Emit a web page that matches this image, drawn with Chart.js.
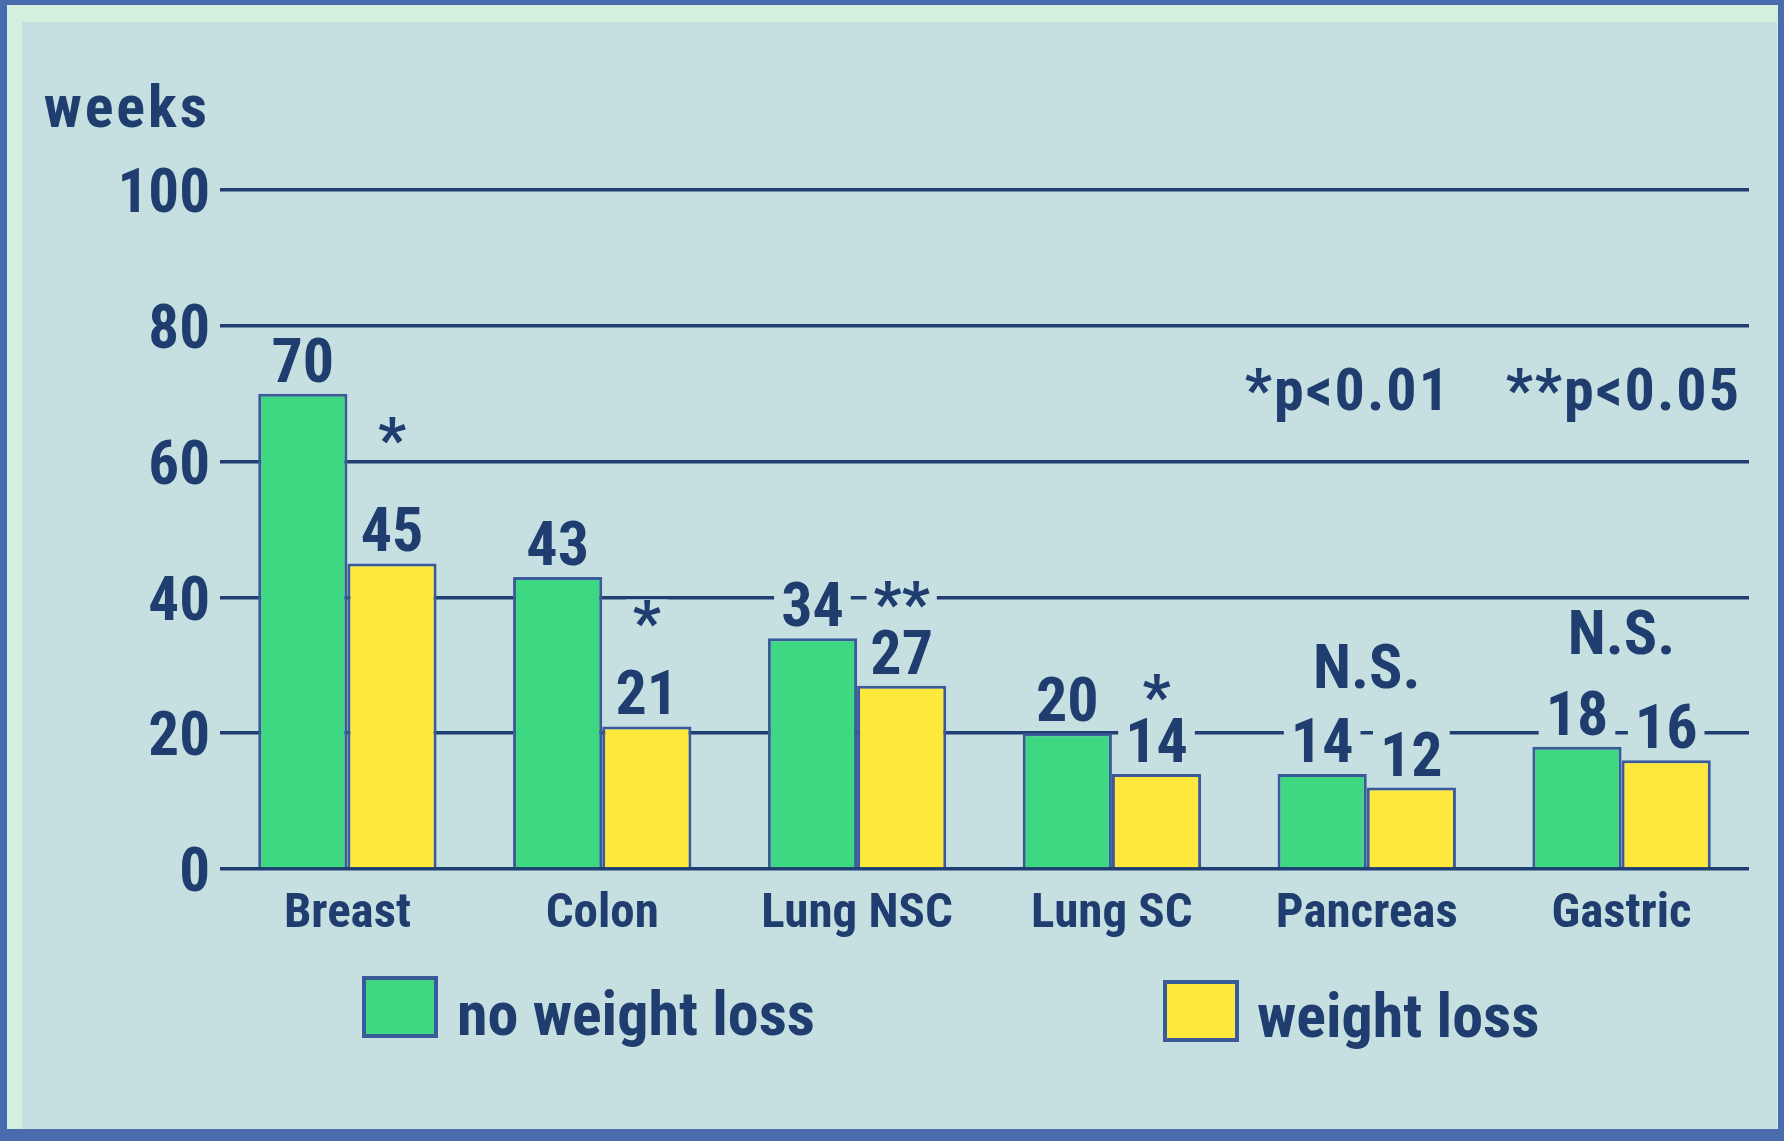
<!DOCTYPE html>
<html>
<head>
<meta charset="utf-8">
<title>Survival by weight loss</title>
<script src="https://cdn.jsdelivr.net/npm/chart.js@4/dist/chart.umd.min.js"></script>
<style>
  html, body { margin: 0; padding: 0; width: 1784px; height: 1141px; overflow: hidden; background: #4a6cae; }
  #frame { position: absolute; left: 7px; top: 5px; width: 1771px; height: 1124px; background: #d3efde; }
  #panel { position: absolute; left: 22px; top: 22px; width: 1755px; height: 1107px; background: #c6dfe1; }
  #chart { position: absolute; left: 0; top: 0; }
</style>
</head>
<body>
<div id="frame"></div>
<div id="panel"></div>
<canvas id="chart" width="1784" height="1141"></canvas>
<script>
// Median survival (weeks) by tumour type, with and without weight loss
const categories   = ['Breast', 'Colon', 'Lung NSC', 'Lung SC', 'Pancreas', 'Gastric'];
const noWeightLoss = [70, 43, 34, 20, 14, 18];
const weightLoss   = [45, 21, 27, 14, 12, 16];
const significance = ['*', '*', '**', '*', 'N.S.', 'N.S.'];
const seriesNames  = ['no weight loss', 'weight loss'];
const pValueNotes  = ['*p<0.01', '**p<0.05'];
const axisTitle    = 'weeks';
const yTickValues  = [0, 20, 40, 60, 80, 100];

// look & feel
const INK    = '#1f3d6e';
const GREEN  = '#3fd882';
const YELLOW = '#ffe83c';
const EDGE   = '#3a5a9a';
const FONT   = '"Roboto Condensed", "Liberation Sans Narrow", "DejaVu Sans Condensed", sans-serif';

// how far (px) each significance mark sits above the bar it refers to
const markerLift = [102, 82, 61, 56, 86, 93];

function collectLabels(chart) {
  const items = [];
  chart.data.datasets.forEach((ds, di) => {
    chart.getDatasetMeta(di).data.forEach((bar, i) => {
      items.push({ text: String(ds.data[i]), x: bar.x, y: bar.y - 12 });
    });
  });
  const g = chart.getDatasetMeta(0).data;
  const w = chart.getDatasetMeta(1).data;
  significance.forEach((s, i) => {
    const grouped = s === 'N.S.';
    const x = grouped ? (g[i].x + w[i].x) / 2 : w[i].x;
    const top = grouped ? Math.min(g[i].y, w[i].y) : w[i].y;
    items.push({ text: s, x: x, y: top - markerLift[i] });
  });
  return items;
}

const slideDecor = {
  id: 'slideDecor',
  beforeDatasetsDraw(chart) {
    // cut the rule lines away behind every label so the numbers read cleanly
    const ctx = chart.ctx;
    ctx.save();
    ctx.font = 'bold 62px ' + FONT;
    ctx.globalCompositeOperation = 'destination-out';
    ctx.fillStyle = '#000';
    collectLabels(chart).forEach(it => {
      const m = ctx.measureText(it.text);
      const asc = m.actualBoundingBoxAscent, desc = m.actualBoundingBoxDescent;
      ctx.fillRect(it.x - m.width / 2 - 7, it.y - asc - 1, m.width + 14, asc + desc + 3);
    });
    ctx.restore();
  },
  afterDatasetsDraw(chart) {
    const ctx = chart.ctx;
    ctx.save();
    ctx.font = 'bold 62px ' + FONT;
    ctx.fillStyle = INK;
    ctx.textAlign = 'center';
    ctx.textBaseline = 'alphabetic';
    collectLabels(chart).forEach(it => ctx.fillText(it.text, it.x, it.y));
    ctx.restore();
  },
  afterDraw(chart) {
    const ctx = chart.ctx;
    const area = chart.chartArea;
    ctx.save();
    ctx.fillStyle = INK;
    ctx.textBaseline = 'alphabetic';

    // axis unit
    ctx.font = 'bold 60px ' + FONT;
    ctx.textAlign = 'right';
    ctx.letterSpacing = '3px';
    ctx.fillText(axisTitle, area.left - 10, 127);

    // significance key
    ctx.letterSpacing = '2px';
    ctx.fillText(pValueNotes[0], 1451, 410);
    ctx.fillText(pValueNotes[1], 1741, 410);
    ctx.letterSpacing = '0px';

    // series key
    const keys = [
      { box: [362, 976], text: [457, 1035] },
      { box: [1163, 980], text: [1257, 1037] }
    ];
    ctx.font = 'bold 62px ' + FONT;
    ctx.textAlign = 'left';
    chart.data.datasets.forEach((ds, i) => {
      const k = keys[i];
      ctx.fillStyle = ds.backgroundColor;
      ctx.fillRect(k.box[0], k.box[1], 76, 62);
      ctx.lineWidth = 4;
      ctx.strokeStyle = EDGE;
      ctx.strokeRect(k.box[0] + 2, k.box[1] + 2, 72, 58);
      ctx.fillStyle = INK;
      ctx.fillText(ds.label, k.text[0], k.text[1]);
    });
    ctx.restore();
  }
};

new Chart(document.getElementById('chart'), {
  type: 'bar',
  data: {
    labels: categories,
    datasets: [
      { label: seriesNames[0], data: noWeightLoss, backgroundColor: GREEN, borderColor: EDGE,
        borderWidth: 3, categoryPercentage: 0.70, barPercentage: 1.0 },
      { label: seriesNames[1], data: weightLoss, backgroundColor: YELLOW, borderColor: EDGE,
        borderWidth: 3, categoryPercentage: 0.70, barPercentage: 1.0 }
    ]
  },
  options: {
    responsive: false,
    animation: false,
    devicePixelRatio: 1,
    layout: { padding: { left: 40, right: 35, top: 190, bottom: 182 } },
    plugins: { legend: { display: false }, tooltip: { enabled: false } },
    scales: {
      x: {
        grid: { display: false, drawTicks: false },
        border: { display: false },
        ticks: { color: INK, font: { family: FONT, size: 49, weight: 'bold' }, padding: 16,
                 maxRotation: 0, autoSkip: false },
        afterFit(s) { s.height = 90; }
      },
      y: {
        min: 0, max: 100,
        afterBuildTicks(s) { s.ticks = yTickValues.map(v => ({ value: v })); },
        ticks: { color: INK, font: { family: FONT, size: 61, weight: 'bold' }, padding: 10, labelOffset: 7 },
        grid: { color: '#1f3f72', lineWidth: 3.5, drawTicks: false },
        border: { display: false },
        afterFit(s) { s.width = 180; }
      }
    }
  },
  plugins: [slideDecor]
});
</script>
</body>
</html>
